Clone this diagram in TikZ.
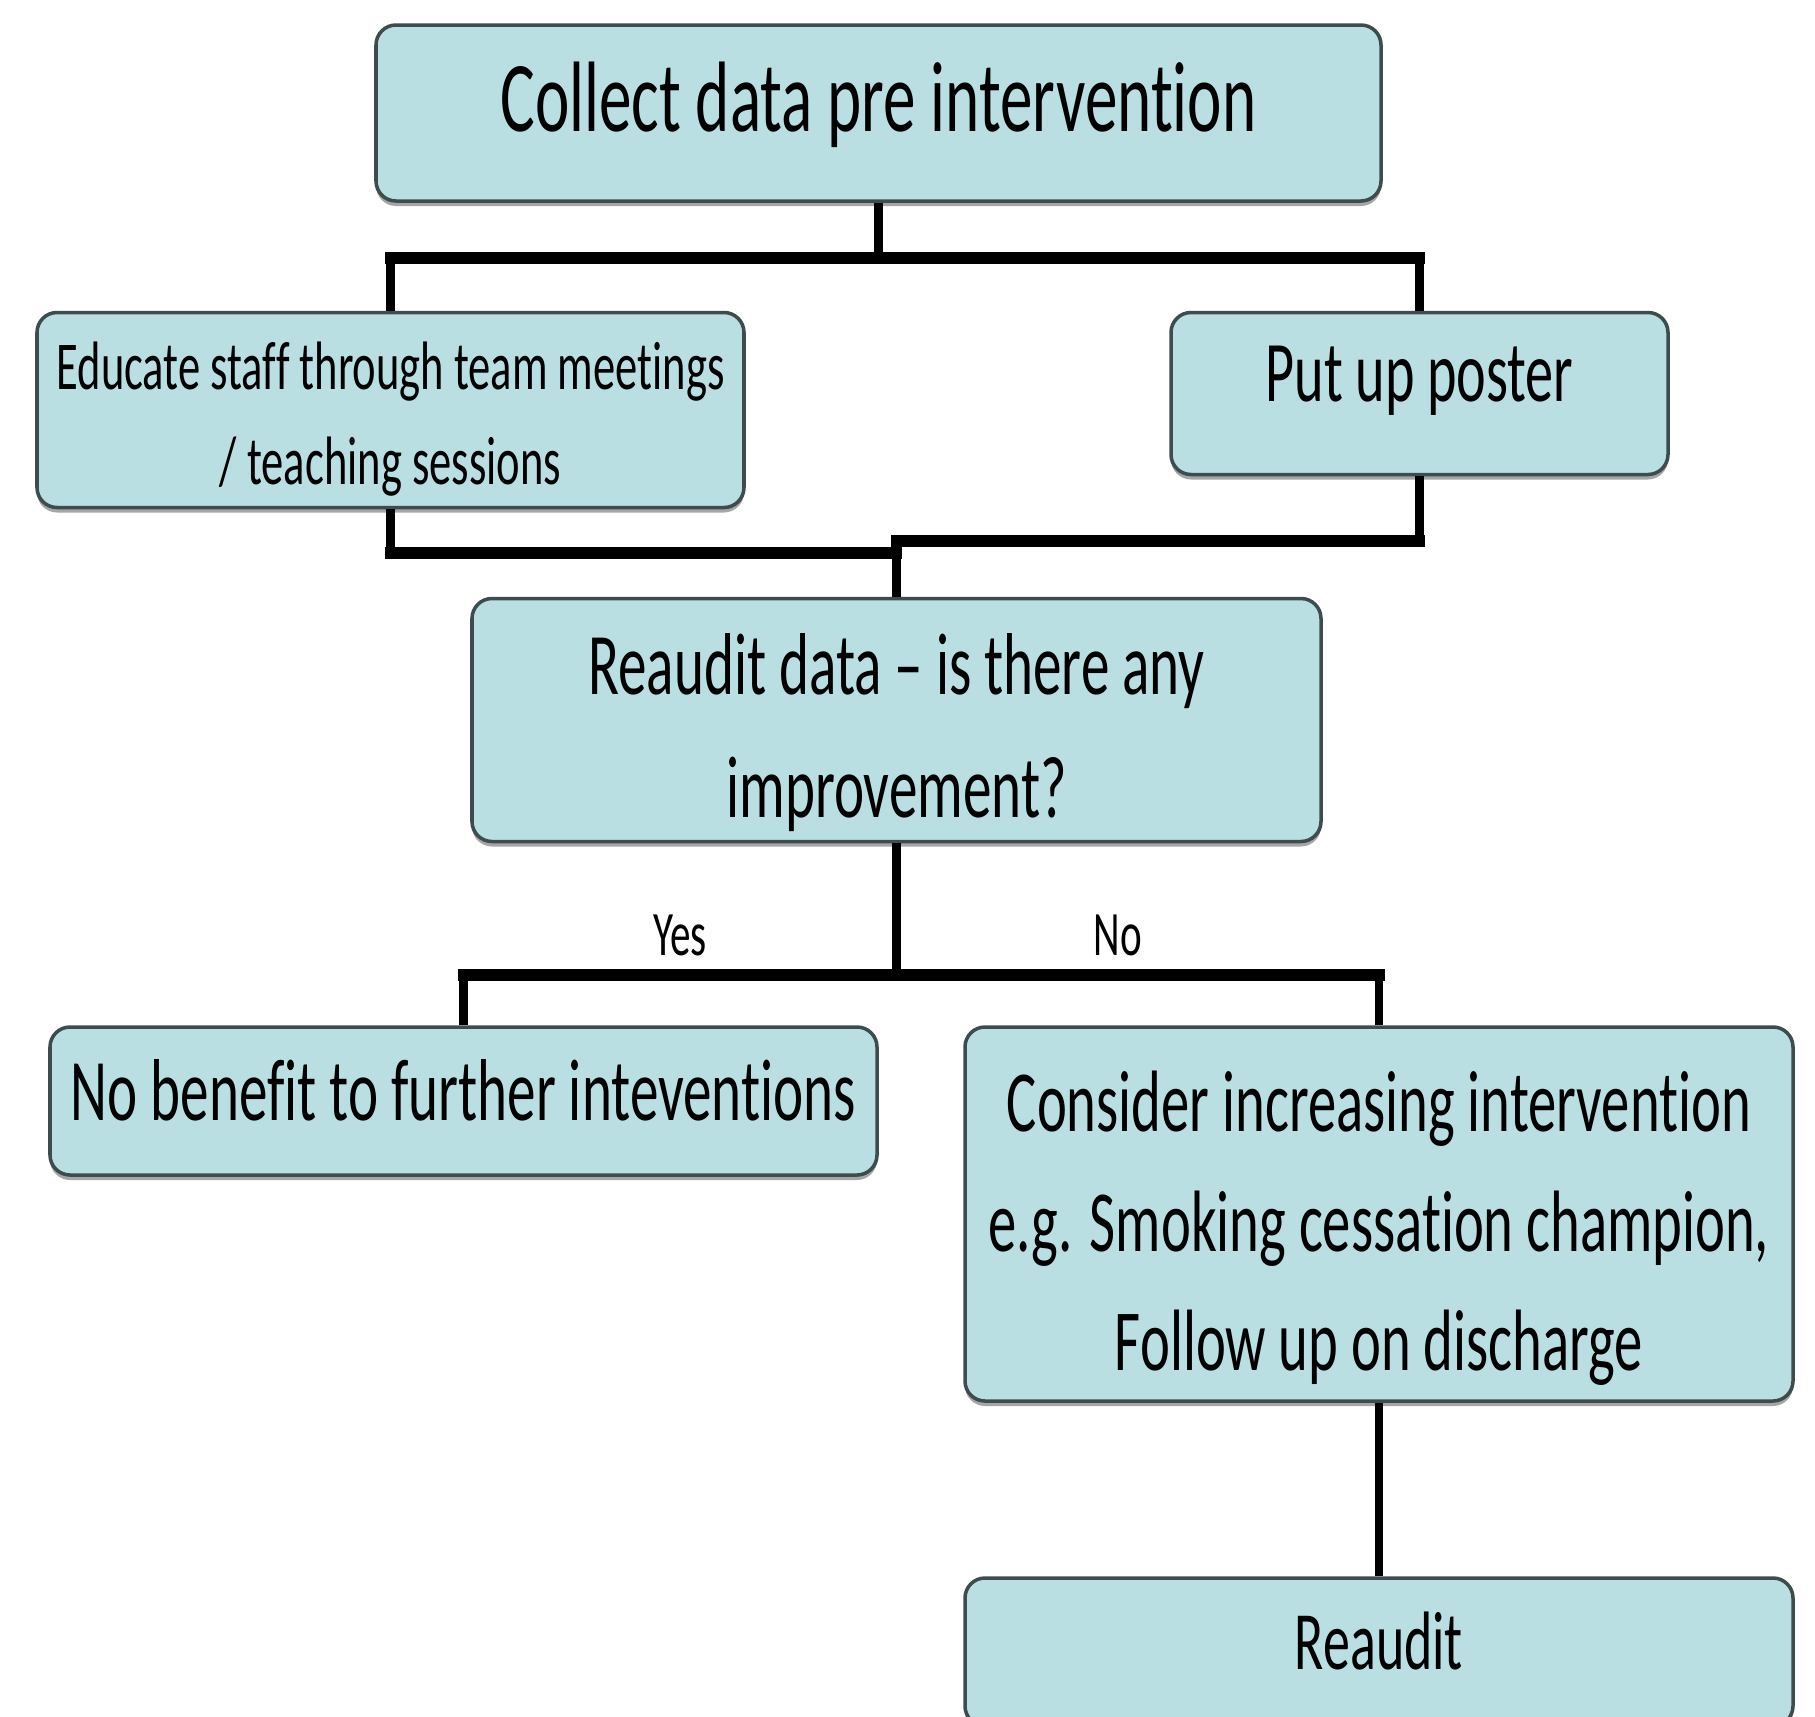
\documentclass[tikz,border=0pt]{standalone}
\usepackage{fontspec}
\setmainfont{Carlito}[FakeStretch=0.65,Ligatures=NoCommon]
\usetikzlibrary{shadows}

\definecolor{boxfill}{RGB}{186,223,226}
\definecolor{boxline}{RGB}{62,76,78}

\begin{document}
\begin{tikzpicture}
		[stagebox/.style={rectangle,rounded corners=0.2cm,draw=boxline,fill=boxfill,
line width=1pt,inner sep=0pt,align=center,
drop shadow={shadow xshift=0pt,shadow yshift=-0.05cm,fill=black,opacity=0.35}},
		answer/.style={inner sep=0pt,font=\fontsize{18}{22}\selectfont},
		vline/.style={-,line width=2.5pt,black},
		hline/.style={-,line width=3.3pt,black,line cap=rect}]
		\useasboundingbox (0,0) rectangle (18.15,-17.17);
		\clip (0,0) rectangle (18.15,-17.17);
		\node at (8.785,-1.13) (collect) [stagebox,minimum width=10.05cm,minimum height=1.76cm,
			text depth=9.5pt,font=\fontsize{28.5}{34}\selectfont] {Collect data pre intervention};
		\node at (3.905,-4.10) (educate) [stagebox,minimum width=7.07cm,minimum height=1.95cm,
			font=\fontsize{19.5}{27}\selectfont] {\rule{0pt}{18.5pt}Educate staff through team meetings\\/ teaching sessions};
		\node at (14.195,-3.935) (poster) [stagebox,minimum width=4.97cm,minimum height=1.62cm,
			text depth=11.5pt,font=\fontsize{24.6}{30}\selectfont] {Put up poster};
		\node at (8.965,-7.20) (check) [stagebox,minimum width=8.49cm,minimum height=2.43cm,
			font=\fontsize{25}{35}\selectfont] {\rule{0pt}{24.5pt}Reaudit data -- is there any\\improvement?};
		\node at (4.635,-11.01) (nobenefit) [stagebox,minimum width=8.27cm,minimum height=1.48cm,
			text depth=6pt,font=\fontsize{25}{32}\selectfont] {No benefit to further inteventions};
		\node at (13.79,-12.14) (increase) [stagebox,minimum width=8.28cm,minimum height=3.74cm,
			font=\fontsize{24.8}{34}\selectfont] {\rule{0pt}{25.5pt}Consider increasing intervention\\e.g. Smoking cessation champion,\\Follow up on discharge};
		\node at (13.79,-16.52) (reaudit) [stagebox,minimum width=8.28cm,minimum height=1.48cm,
			text depth=6.6pt,font=\fontsize{23.6}{30}\selectfont] {Reaudit};
		% first split
		\draw[vline] (collect) -- (collect |- 0,-2.58) coordinate (top bus);
		\draw[vline] (educate |- top bus) -- (educate);
		\draw[vline] (poster |- top bus) -- (poster);
		\draw[hline] (educate |- top bus) -- (poster |- top bus);
		% join again
		\draw[vline] (educate) -- (educate |- 0,-5.53) coordinate (left join);
		\draw[vline] (poster) -- (poster |- 0,-5.41) coordinate (right join);
		\draw[vline] (check |- right join) -- (check);
		\draw[hline] (left join) -- (check |- left join);
		\draw[hline] (right join) -- (check |- right join);
		% yes / no
		\draw[vline] (check) -- (check |- 0,-9.75) coordinate (low bus);
		\draw[vline] (nobenefit |- low bus) -- (nobenefit);
		\draw[vline] (increase |- low bus) -- (increase);
		\draw[hline] (nobenefit |- low bus) -- (increase |- low bus);
		\node at (6.80,-9.35) (yes) [answer] {Yes};
		\node at (11.18,-9.35) (no) [answer] {No};
		\draw[vline] (increase) -- (reaudit);
	\end{tikzpicture}
\end{document}
